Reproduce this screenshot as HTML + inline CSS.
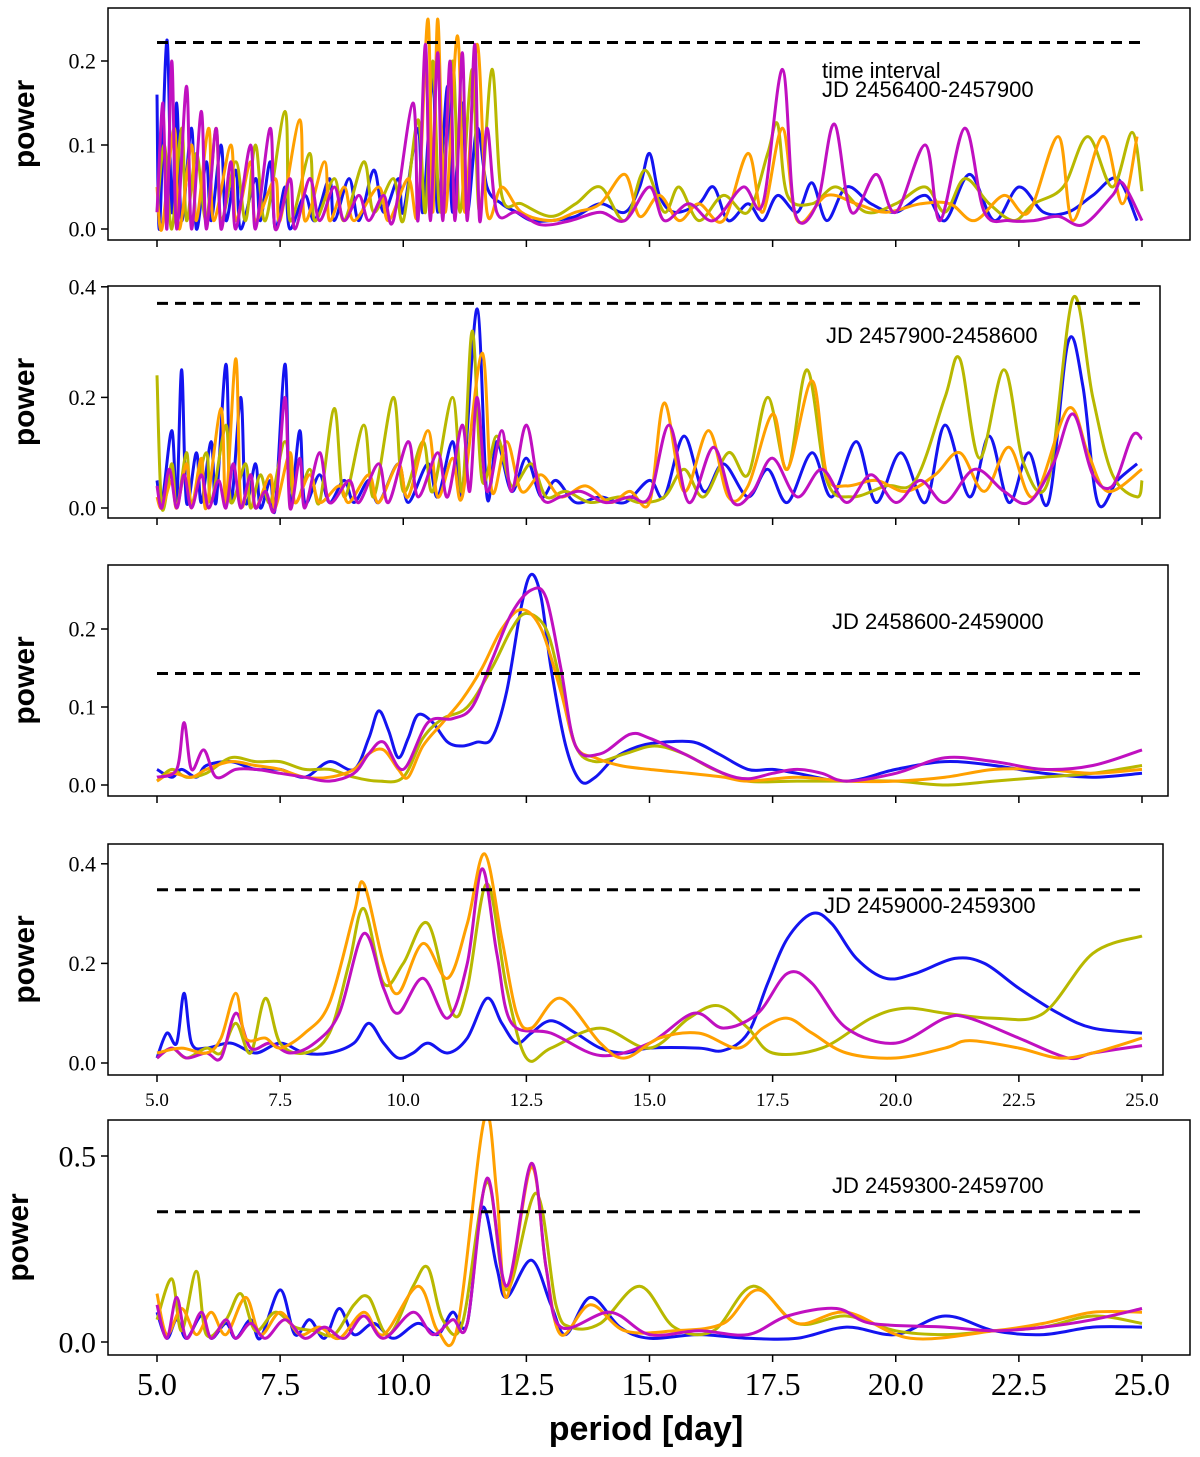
<!DOCTYPE html>
<html><head><meta charset="utf-8"><style>
html,body{margin:0;padding:0;background:#fff;}
svg{display:block;}
</style></head><body>
<svg id="chart" width="1200" height="1457" viewBox="0 0 1200 1457" xmlns="http://www.w3.org/2000/svg"></svg>
<script>
// ---- data arrays (period [day], power) ----
const xTicks = [5.0, 7.5, 10.0, 12.5, 15.0, 17.5, 20.0, 22.5, 25.0];
const seriesNames = ["blue", "olive", "orange", "magenta"];
const seriesColors = ["#1414f0", "#b8b800", "#ffa000", "#c010c0"];
const intervalLabels = ["JD 2456400-2457900", "JD 2457900-2458600", "JD 2458600-2459000", "JD 2459000-2459300", "JD 2459300-2459700"];
const thresholds = [0.222, 0.37, 0.143, 0.348, 0.35];
const yTicks1 = [0.0, 0.1, 0.2];
const yTicks2 = [0.0, 0.2, 0.4];
const yTicks3 = [0.0, 0.1, 0.2];
const yTicks4 = [0.0, 0.2, 0.4];
const yTicks5 = [0.0, 0.5];

// Panel 1
const p1Blue = [[5,0.16],[5.05,0],[5.2,0.225],[5.3,0.02],[5.4,0.15],[5.5,0.01],[5.7,0.12],[5.8,0],[6,0.08],[6.1,0.01],[6.3,0.1],[6.4,0.01],[6.6,0.07],[6.7,0],[7,0.06],[7.1,0.01],[7.3,0.08],[7.4,0],[7.6,0.05],[7.7,0],[8,0.04],[8.2,0.01],[8.5,0.06],[8.6,0.01],[8.9,0.06],[9.1,0.01],[9.4,0.07],[9.6,0.02],[9.9,0.06],[10,0.02],[10.3,0.12],[10.4,0.02],[10.6,0.18],[10.7,0.02],[10.9,0.17],[11,0.02],[11.2,0.15],[11.3,0.02],[11.5,0.12],[11.7,0.05],[12,0.03],[12.3,0.02],[12.6,0.01],[13,0.01],[13.5,0.015],[14,0.03],[14.5,0.02],[14.8,0.05],[15,0.09],[15.2,0.04],[15.5,0.02],[16,0.03],[16.3,0.05],[16.6,0.01],[17,0.03],[17.3,0.01],[17.6,0.04],[18,0.02],[18.3,0.055],[18.6,0.01],[19,0.05],[19.5,0.03],[20,0.02],[20.6,0.04],[21,0.01],[21.5,0.065],[22,0.01],[22.5,0.05],[23,0.02],[23.5,0.02],[24,0.04],[24.5,0.06],[24.9,0.01]];
const p1Olive = [[5,0.02],[5.15,0.1],[5.3,0],[5.5,0.12],[5.6,0.01],[5.8,0.09],[6,0.01],[6.2,0.12],[6.3,0.01],[6.6,0.08],[6.8,0.01],[7,0.1],[7.2,0.01],[7.6,0.14],[7.7,0.01],[8.1,0.09],[8.2,0.01],[8.6,0.06],[8.8,0.01],[9.2,0.08],[9.4,0.02],[9.8,0.06],[10,0.01],[10.3,0.13],[10.45,0.02],[10.6,0.2],[10.75,0.02],[11,0.2],[11.15,0.02],[11.4,0.19],[11.55,0.02],[11.8,0.19],[12,0.04],[12.4,0.03],[13,0.015],[13.5,0.03],[14,0.05],[14.5,0.01],[14.9,0.07],[15.3,0.02],[15.6,0.05],[16,0.01],[16.5,0.04],[17,0.02],[17.4,0.09],[17.6,0.125],[17.8,0.04],[18.3,0.03],[18.8,0.05],[19.4,0.02],[20,0.03],[20.6,0.05],[21,0.02],[21.4,0.06],[21.9,0.03],[22.4,0.01],[22.8,0.03],[23.4,0.05],[23.9,0.11],[24.4,0.05],[24.8,0.115],[25,0.045]];
const p1Orange = [[5,0.05],[5.1,0],[5.35,0.12],[5.45,0],[5.7,0.1],[5.8,0.01],[6.05,0.12],[6.15,0.01],[6.5,0.1],[6.6,0.01],[6.9,0.08],[7,0.01],[7.4,0.06],[7.5,0.01],[7.9,0.13],[8,0.01],[8.4,0.08],[8.5,0.01],[8.8,0.05],[9,0.01],[9.5,0.05],[9.7,0.01],[10.1,0.06],[10.3,0.02],[10.5,0.25],[10.6,0.02],[10.7,0.25],[10.85,0.02],[11.1,0.23],[11.25,0.02],[11.5,0.22],[11.7,0.02],[12,0.05],[12.4,0.02],[13,0.01],[13.5,0.02],[14,0.03],[14.5,0.065],[14.8,0.015],[15.2,0.04],[15.6,0.01],[16,0.03],[16.5,0.01],[17,0.09],[17.3,0.02],[17.7,0.12],[18,0.01],[18.6,0.04],[19.2,0.03],[19.8,0.02],[20.5,0.03],[21.1,0.03],[21.6,0.01],[22.2,0.04],[22.7,0.02],[23.3,0.11],[23.6,0.01],[24.2,0.11],[24.6,0.03],[24.9,0.11]];
const p1Magenta = [[5,0.02],[5.12,0.15],[5.2,0],[5.3,0.2],[5.4,0],[5.6,0.17],[5.7,0],[5.9,0.14],[6,0],[6.2,0.12],[6.3,0],[6.5,0.08],[6.6,0],[6.9,0.1],[7,0],[7.3,0.12],[7.4,0],[7.7,0.06],[7.8,0],[8.1,0.06],[8.3,0.01],[8.6,0.05],[8.8,0.01],[9.1,0.04],[9.3,0.01],[9.6,0.04],[9.8,0.01],[10.2,0.15],[10.3,0.01],[10.45,0.22],[10.55,0.01],[10.7,0.21],[10.8,0.01],[10.95,0.2],[11.05,0.01],[11.2,0.21],[11.3,0.01],[11.45,0.22],[11.55,0.01],[11.7,0.12],[11.9,0.02],[12.3,0.02],[12.8,0.005],[13.4,0.01],[14,0.02],[14.5,0.01],[15,0.05],[15.3,0.01],[15.8,0.03],[16.3,0.01],[16.9,0.05],[17.3,0.03],[17.7,0.19],[17.95,0.02],[18.4,0.03],[18.75,0.125],[19.1,0.02],[19.6,0.065],[20,0.02],[20.6,0.1],[20.9,0.01],[21.4,0.12],[21.8,0.02],[22.3,0.01],[22.8,0.01],[23.3,0.015],[23.8,0.005],[24.4,0.04],[24.6,0.055],[25,0.01]];

// Panel 2
const p2Blue = [[5,0.05],[5.1,0.01],[5.3,0.14],[5.4,0.01],[5.5,0.25],[5.6,0.01],[5.8,0.1],[5.9,0.01],[6.1,0.12],[6.2,0.01],[6.4,0.26],[6.5,0.01],[6.7,0.2],[6.8,0.01],[7,0.08],[7.1,0],[7.3,0.05],[7.4,0],[7.6,0.26],[7.7,0.01],[7.9,0.14],[8,0.01],[8.3,0.06],[8.5,0.01],[8.8,0.05],[9,0.01],[9.3,0.05],[9.5,0.01],[9.9,0.08],[10.1,0.01],[10.5,0.08],[10.7,0.02],[11,0.12],[11.2,0.03],[11.5,0.36],[11.7,0.02],[11.9,0.12],[12.2,0.03],[12.5,0.09],[12.8,0.02],[13.1,0.05],[13.5,0.01],[14,0.02],[14.5,0.01],[15,0.05],[15.3,0.02],[15.7,0.13],[16.1,0.03],[16.5,0.08],[17,0.02],[17.4,0.07],[17.8,0.01],[18.3,0.1],[18.7,0.02],[19.2,0.12],[19.6,0.01],[20.1,0.1],[20.6,0.01],[21,0.15],[21.5,0.02],[21.9,0.13],[22.3,0.01],[22.7,0.1],[23.1,0.01],[23.5,0.3],[23.8,0.22],[24.1,0.01],[24.5,0.05],[24.9,0.08]];
const p2Olive = [[5,0.24],[5.1,0],[5.3,0.08],[5.4,0],[5.6,0.1],[5.7,0.01],[6,0.1],[6.1,0.01],[6.4,0.15],[6.5,0.01],[6.8,0.08],[6.9,0],[7.1,0.06],[7.3,0.01],[7.6,0.12],[7.8,0.01],[8.1,0.07],[8.3,0.01],[8.6,0.18],[8.8,0.02],[9.2,0.15],[9.4,0.02],[9.8,0.2],[10,0.03],[10.4,0.12],[10.6,0.03],[11,0.2],[11.2,0.03],[11.4,0.32],[11.6,0.05],[11.9,0.13],[12.2,0.04],[12.6,0.08],[12.9,0.02],[13.3,0.03],[13.8,0.01],[14.4,0.02],[14.8,0.01],[15.3,0.02],[15.7,0.07],[16.1,0.02],[16.6,0.1],[17,0.06],[17.4,0.2],[17.8,0.07],[18.2,0.25],[18.6,0.05],[19.1,0.02],[19.8,0.04],[20.4,0.05],[21,0.2],[21.3,0.27],[21.7,0.09],[22.2,0.25],[22.6,0.08],[23.1,0.05],[23.6,0.38],[24,0.2],[24.4,0.06],[24.9,0.02],[25,0.05]];
const p2Orange = [[5,0.02],[5.1,0],[5.3,0.05],[5.4,0],[5.6,0.08],[5.7,0],[5.9,0.09],[6,0],[6.3,0.18],[6.4,0.01],[6.6,0.27],[6.7,0.01],[6.9,0.06],[7,0],[7.3,0.06],[7.4,0],[7.7,0.1],[7.8,0.01],[8.1,0.06],[8.3,0.01],[8.7,0.04],[8.9,0.01],[9.3,0.06],[9.5,0.01],[9.9,0.08],[10.1,0.02],[10.5,0.14],[10.7,0.02],[11,0.09],[11.2,0.02],[11.6,0.28],[11.8,0.03],[12.1,0.12],[12.4,0.03],[12.8,0.06],[13.2,0.02],[13.7,0.04],[14.2,0.01],[14.6,0.03],[15,0.01],[15.3,0.19],[15.7,0.03],[16.2,0.14],[16.6,0.02],[17,0.04],[17.5,0.17],[17.8,0.07],[18.3,0.23],[18.6,0.06],[19,0.04],[19.6,0.05],[20.2,0.03],[20.8,0.06],[21.3,0.1],[21.8,0.03],[22.3,0.11],[22.8,0.02],[23.5,0.18],[23.9,0.1],[24.3,0.03],[25,0.07]];
const p2Magenta = [[5,0.04],[5.1,0],[5.25,0.07],[5.4,0],[5.55,0.06],[5.7,0],[5.9,0.06],[6.05,0],[6.25,0.05],[6.4,0],[6.55,0.08],[6.7,0],[6.9,0.06],[7,0],[7.2,0.03],[7.4,0],[7.6,0.2],[7.7,0],[7.9,0.09],[8,0],[8.3,0.1],[8.5,0.01],[8.9,0.05],[9.1,0.01],[9.5,0.08],[9.7,0.01],[10.1,0.12],[10.3,0.02],[10.7,0.1],[10.9,0.02],[11.2,0.15],[11.35,0.03],[11.5,0.2],[11.7,0.03],[12,0.14],[12.2,0.03],[12.5,0.15],[12.8,0.02],[13.2,0.02],[13.6,0.03],[14.1,0.01],[14.6,0.02],[15,0.02],[15.4,0.15],[15.8,0.01],[16.3,0.11],[16.7,0.01],[17.1,0.03],[17.5,0.09],[18,0.02],[18.5,0.07],[19,0.01],[19.5,0.06],[20,0.01],[20.5,0.05],[21,0.01],[21.6,0.07],[22.2,0.03],[22.7,0.01],[23.2,0.08],[23.6,0.17],[24,0.06],[24.4,0.04],[24.8,0.13],[25,0.125]];

// Panel 3
const p3Blue = [[5,0.02],[5.3,0.01],[5.5,0.02],[5.8,0.01],[6,0.025],[6.5,0.03],[7,0.02],[7.5,0.02],[8,0.01],[8.5,0.03],[9,0.02],[9.3,0.06],[9.5,0.095],[9.7,0.07],[9.9,0.035],[10.1,0.06],[10.3,0.09],[10.6,0.08],[10.9,0.055],[11.2,0.05],[11.5,0.055],[11.8,0.06],[12.1,0.12],[12.4,0.23],[12.6,0.27],[12.8,0.24],[13,0.15],[13.3,0.05],[13.6,0.005],[13.9,0.01],[14.3,0.035],[14.8,0.05],[15.3,0.055],[15.9,0.055],[16.4,0.04],[17,0.02],[17.5,0.02],[18,0.015],[19,0.005],[20,0.02],[21,0.03],[22,0.025],[23,0.015],[24,0.01],[25,0.015]];
const p3Olive = [[5,0.005],[5.3,0.02],[5.6,0.01],[6,0.015],[6.5,0.035],[7,0.03],[7.5,0.03],[8,0.02],[8.5,0.02],[9,0.01],[9.5,0.005],[10,0.01],[10.4,0.06],[10.8,0.085],[11.3,0.1],[11.8,0.15],[12.2,0.2],[12.5,0.22],[12.9,0.2],[13.2,0.13],[13.5,0.05],[13.9,0.03],[14.5,0.04],[15.1,0.05],[15.7,0.04],[16.3,0.02],[17,0.005],[18,0.005],[19,0.005],[20,0.005],[21,0.0],[22,0.005],[23,0.01],[24,0.015],[25,0.025]];
const p3Orange = [[5,0.005],[5.3,0.015],[5.7,0.01],[6,0.02],[6.5,0.03],[7,0.025],[7.5,0.02],[8,0.01],[8.5,0.01],[9,0.02],[9.3,0.04],[9.6,0.045],[9.9,0.02],[10.1,0.01],[10.4,0.05],[10.8,0.08],[11.2,0.11],[11.6,0.15],[12,0.2],[12.4,0.225],[12.8,0.2],[13.2,0.12],[13.5,0.05],[13.9,0.035],[14.4,0.025],[15,0.02],[15.8,0.015],[16.5,0.01],[17,0.005],[18,0.01],[19,0.005],[20,0.005],[21,0.01],[22,0.02],[23,0.02],[24,0.015],[25,0.02]];
const p3Magenta = [[5,0.01],[5.4,0.02],[5.55,0.08],[5.7,0.02],[5.95,0.045],[6.2,0.01],[6.6,0.02],[7,0.02],[7.5,0.015],[8,0.01],[8.5,0.005],[9,0.015],[9.3,0.04],[9.6,0.055],[10,0.02],[10.5,0.08],[11,0.085],[11.4,0.1],[11.8,0.16],[12.2,0.22],[12.6,0.25],[12.9,0.24],[13.2,0.15],[13.5,0.05],[14,0.04],[14.6,0.065],[15,0.06],[15.7,0.04],[16.5,0.015],[17,0.008],[17.5,0.015],[18,0.02],[18.5,0.015],[19,0.005],[20,0.015],[21,0.035],[22,0.03],[23,0.02],[24,0.025],[25,0.045]];

// Panel 4
const p4Blue = [[5,0.01],[5.2,0.06],[5.4,0.04],[5.55,0.14],[5.7,0.04],[6,0.03],[6.5,0.04],[7,0.02],[7.5,0.04],[8,0.02],[8.5,0.02],[9,0.04],[9.3,0.08],[9.6,0.04],[9.9,0.01],[10.2,0.02],[10.5,0.04],[10.9,0.02],[11.3,0.05],[11.7,0.13],[12,0.08],[12.3,0.04],[12.6,0.06],[13,0.085],[13.5,0.06],[14,0.03],[14.5,0.02],[15,0.03],[16,0.03],[16.5,0.025],[17,0.06],[17.4,0.16],[17.8,0.25],[18.3,0.3],[18.7,0.28],[19.2,0.21],[19.8,0.17],[20.4,0.18],[21.2,0.21],[21.8,0.2],[22.5,0.15],[23.3,0.1],[24,0.07],[25,0.06]];
const p4Olive = [[5,0.01],[5.3,0.03],[5.6,0.01],[6,0.03],[6.3,0.02],[6.6,0.08],[6.9,0.02],[7.2,0.13],[7.5,0.04],[8,0.02],[8.5,0.06],[8.9,0.2],[9.2,0.31],[9.6,0.16],[10,0.2],[10.5,0.28],[11,0.1],[11.3,0.15],[11.7,0.36],[12.1,0.15],[12.5,0.01],[13,0.03],[14,0.07],[15,0.03],[15.8,0.09],[16.4,0.115],[17,0.07],[17.5,0.02],[18.5,0.03],[19.5,0.09],[20.2,0.11],[21,0.1],[22,0.09],[23,0.1],[24,0.22],[25,0.255]];
const p4Orange = [[5,0.02],[5.5,0.03],[6,0.02],[6.3,0.05],[6.6,0.14],[6.8,0.05],[7.2,0.05],[7.5,0.03],[8,0.06],[8.5,0.12],[9,0.3],[9.2,0.36],[9.6,0.2],[9.9,0.14],[10.4,0.24],[10.9,0.17],[11.3,0.28],[11.65,0.42],[12,0.25],[12.3,0.1],[12.6,0.07],[13.2,0.13],[14,0.04],[14.5,0.01],[15.2,0.05],[16,0.06],[16.8,0.03],[17.3,0.07],[17.8,0.09],[18.3,0.06],[19,0.02],[20,0.01],[21,0.03],[21.5,0.045],[22.5,0.03],[23.3,0.01],[24,0.02],[25,0.05]];
const p4Magenta = [[5,0.01],[5.3,0.03],[5.6,0.01],[6,0.02],[6.3,0.01],[6.6,0.1],[6.9,0.03],[7.3,0.04],[7.7,0.02],[8.2,0.04],[8.7,0.1],[9.2,0.26],[9.6,0.15],[9.9,0.1],[10.4,0.17],[10.9,0.09],[11.3,0.2],[11.6,0.39],[11.9,0.22],[12.2,0.08],[13,0.06],[14,0.015],[15,0.04],[15.9,0.1],[16.5,0.07],[17.2,0.1],[17.8,0.18],[18.3,0.16],[19,0.07],[20,0.04],[21,0.09],[21.5,0.09],[22.5,0.05],[23.5,0.01],[24,0.02],[25,0.035]];

// Panel 5
const p5Blue = [[5,0.08],[5.2,0.01],[5.4,0.06],[5.6,0.01],[5.9,0.07],[6.1,0.01],[6.4,0.05],[6.6,0.01],[6.9,0.06],[7.1,0.01],[7.5,0.14],[7.8,0.02],[8.1,0.06],[8.4,0.01],[8.7,0.09],[9,0.02],[9.4,0.05],[9.8,0.01],[10.3,0.05],[10.7,0.02],[11,0.08],[11.3,0.05],[11.6,0.36],[11.9,0.2],[12.1,0.12],[12.6,0.22],[13,0.1],[13.3,0.02],[13.8,0.12],[14.4,0.04],[15,0.01],[16,0.02],[17,0.01],[18,0.01],[19,0.04],[20,0.02],[21,0.07],[22,0.03],[23,0.02],[24,0.04],[25,0.04]];
const p5Olive = [[5,0.06],[5.3,0.17],[5.5,0.03],[5.8,0.19],[6,0.02],[6.4,0.06],[6.7,0.13],[7,0.03],[7.4,0.08],[7.8,0.04],[8.2,0.03],[8.6,0.02],[9,0.1],[9.3,0.12],[9.7,0.02],[10.2,0.15],[10.5,0.2],[10.8,0.06],[11.2,0.05],[11.7,0.43],[12.1,0.14],[12.7,0.4],[13.1,0.1],[13.4,0.04],[14,0.05],[14.8,0.15],[15.5,0.04],[16.3,0.03],[17.1,0.15],[18,0.05],[19,0.07],[20,0.03],[21,0.02],[22,0.03],[23,0.04],[24,0.07],[25,0.05]];
const p5Orange = [[5,0.13],[5.2,0.02],[5.5,0.09],[5.8,0.02],[6.1,0.08],[6.4,0.02],[6.8,0.12],[7.1,0.02],[7.5,0.08],[7.9,0.02],[8.3,0.04],[8.7,0.01],[9.2,0.08],[9.6,0.02],[10.3,0.15],[10.7,0.03],[11.1,0.04],[11.65,0.6],[11.9,0.4],[12.1,0.12],[12.6,0.47],[12.9,0.2],[13.2,0.02],[13.8,0.1],[14.5,0.03],[15.5,0.03],[16.5,0.05],[17.2,0.14],[18,0.05],[19,0.08],[20.3,0.01],[22,0.03],[23,0.05],[24,0.08],[25,0.08]];
const p5Magenta = [[5,0.1],[5.2,0.01],[5.4,0.12],[5.6,0.01],[5.9,0.08],[6.1,0.01],[6.4,0.06],[6.6,0.01],[6.9,0.05],[7.2,0.01],[7.6,0.06],[8,0.01],[8.4,0.04],[8.8,0.01],[9.2,0.07],[9.6,0.01],[10.2,0.08],[10.6,0.02],[11,0.06],[11.3,0.05],[11.7,0.44],[12.1,0.15],[12.6,0.48],[12.9,0.2],[13.2,0.04],[14.2,0.08],[15,0.02],[16,0.03],[17,0.02],[17.8,0.07],[18.8,0.09],[19.5,0.05],[21,0.04],[22,0.03],[23,0.04],[24,0.06],[25,0.09]];

const panelData = [
  [p1Blue, p1Olive, p1Orange, p1Magenta],
  [p2Blue, p2Olive, p2Orange, p2Magenta],
  [p3Blue, p3Olive, p3Orange, p3Magenta],
  [p4Blue, p4Olive, p4Magenta, p4Orange],
  [p5Blue, p5Olive, p5Orange, p5Magenta]
];
const panelColorIdx = [[0,1,2,3],[0,1,2,3],[0,1,2,3],[0,1,3,2],[0,1,2,3]];
const panelYTicks = [yTicks1, yTicks2, yTicks3, yTicks4, yTicks5];

// ---- layout ----
const layout = [
  {top:8, bottom:240, right:1190, y0:229, yPerUnit:840, label:[822,70], fs:22, ylx:34},
  {top:286, bottom:518, right:1160, y0:508, yPerUnit:553, label:[826,335], fs:22, ylx:34},
  {top:565, bottom:796, right:1168, y0:785, yPerUnit:780, label:[832,621], fs:22, ylx:34},
  {top:844, bottom:1075, right:1163, y0:1063, yPerUnit:498, label:[824,905], fs:22, ylx:34},
  {top:1120, bottom:1355, right:1190, y0:1342, yPerUnit:372, label:[832,1185], fs:30, ylx:28}
];
const LEFT = 108;
const xScale = p => 157 + (p - 5) * (1142 - 157) / 20;

const svg = document.getElementById('chart');
const NS = 'http://www.w3.org/2000/svg';
function mk(tag, attrs, parent) {
  const e = document.createElementNS(NS, tag);
  for (const k in attrs) e.setAttribute(k, attrs[k]);
  (parent || svg).appendChild(e);
  return e;
}
function smoothPath(pts) {
  let d = 'M' + pts[0][0].toFixed(1) + ',' + pts[0][1].toFixed(1);
  for (let i = 0; i < pts.length - 1; i++) {
    const p0 = pts[Math.max(0, i - 1)], p1 = pts[i], p2 = pts[i + 1], p3 = pts[Math.min(pts.length - 1, i + 2)];
    const c1x = p1[0] + (p2[0] - p0[0]) / 6, c1y = p1[1] + (p2[1] - p0[1]) / 6;
    const c2x = p2[0] - (p3[0] - p1[0]) / 6, c2y = p2[1] - (p3[1] - p1[1]) / 6;
    d += ' C' + c1x.toFixed(1) + ',' + c1y.toFixed(1) + ' ' + c2x.toFixed(1) + ',' + c2y.toFixed(1) + ' ' + p2[0].toFixed(1) + ',' + p2[1].toFixed(1);
  }
  return d;
}

layout.forEach((L, pi) => {
  const g = mk('g', {});
  
  
  const yScale = v => L.y0 - v * L.yPerUnit;
  const clipId = 'clip' + pi;
  const cp = mk('clipPath', {id: clipId}, g);
  mk('rect', {x: LEFT, y: L.top, width: L.right - LEFT, height: L.bottom - L.top}, cp);

  const sg = mk('g', {'clip-path': 'url(#' + clipId + ')'}, g);
  panelData[pi].forEach((arr, si) => {
    const ci = panelColorIdx[pi][si];
    const pts = arr.map(d => [xScale(d[0]), yScale(d[1])]);
    const pl = mk('path', {d: smoothPath(pts), fill: 'none', stroke: seriesColors[ci], 'stroke-width': 3, 'stroke-linejoin': 'round'}, sg);
    
    
  });

  const th = mk('line', {x1: xScale(5), x2: xScale(25), y1: yScale(thresholds[pi]), y2: yScale(thresholds[pi]), stroke: '#000', 'stroke-width': 3, 'stroke-dasharray': '11,7'}, g);
  
  

  const fr = mk('rect', {x: LEFT, y: L.top, width: L.right - LEFT, height: L.bottom - L.top, fill: 'none', stroke: '#000', 'stroke-width': 1.5}, g);
  
  

  xTicks.forEach(t => {
    mk('line', {x1: xScale(t), x2: xScale(t), y1: L.bottom, y2: L.bottom + 7, stroke: '#000', 'stroke-width': 1.5}, g);
  });
  panelYTicks[pi].forEach(t => {
    const y = yScale(t);
    mk('line', {x1: LEFT - 7, x2: LEFT, y1: y, y2: y, stroke: '#000', 'stroke-width': 1.5}, g);
    const tx = mk('text', {x: LEFT - 12, y: y + L.fs * 0.35, 'text-anchor': 'end', 'font-family': '"Liberation Serif", serif', 'font-size': L.fs}, g);
    tx.textContent = t.toFixed(1);
    
    
  });
  const cy = (L.top + L.bottom) / 2;
  const yl = mk('text', {x: L.ylx, y: cy, transform: 'rotate(-90 ' + L.ylx + ' ' + cy + ') scale(0.92,1)', 'text-anchor': 'middle', 'font-family': '"Liberation Sans", sans-serif', 'font-weight': 'bold', 'font-size': 30}, g);
  yl.setAttribute('transform', 'rotate(-90 ' + L.ylx + ' ' + cy + ')');
  yl.textContent = 'power';
  
  

  if (pi === 0) {
    const t0 = mk('text', {x: L.label[0], y: 78, 'font-family': '"Liberation Sans Narrow", "Liberation Sans", sans-serif', 'font-size': 22}, g);
    t0.textContent = 'time interval';
    
    
  }
  const il = mk('text', {x: L.label[0], y: pi === 0 ? 97 : L.label[1] + 8, 'font-family': '"Liberation Sans Narrow", "Liberation Sans", sans-serif', 'font-size': 22}, g);
  il.textContent = intervalLabels[pi];
  
  

  if (pi === 3 || pi === 4) {
    const fs = pi === 3 ? 19 : 32;
    const yy = pi === 3 ? 1106 : 1395;
    xTicks.forEach(t => {
      const tl = mk('text', {x: xScale(t), y: yy, 'text-anchor': 'middle', 'font-family': '"Liberation Serif", serif', 'font-size': fs}, g);
      tl.textContent = t.toFixed(1);
      
      
    });
  }
});

const xl = mk('text', {x: 646, y: 1440, 'text-anchor': 'middle', 'font-family': '"Liberation Sans", sans-serif', 'font-weight': 'bold', 'font-size': 34});
xl.textContent = 'period [day]';


</script>
</body></html>
